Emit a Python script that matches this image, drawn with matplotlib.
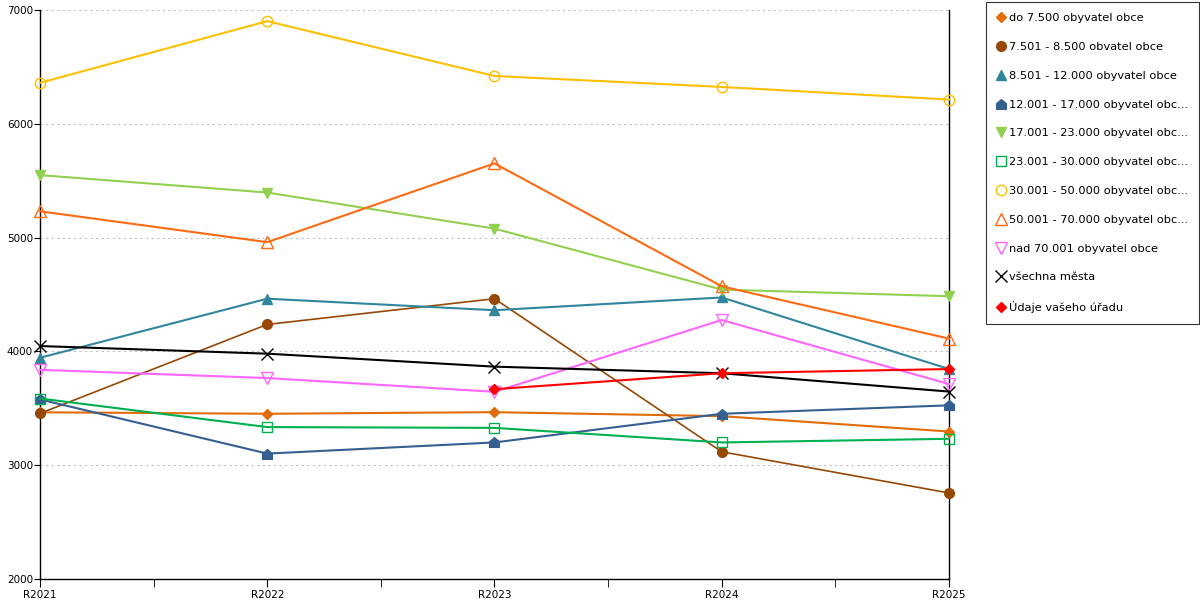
import numpy as np
import matplotlib
matplotlib.use('Agg')
import matplotlib.pyplot as plt
from matplotlib.lines import Line2D
from matplotlib.path import Path

years = ['R2021', 'R2022', 'R2023', 'R2024', 'R2025']

labels = ['do 7.500 obyvatel obce',
          '7.501 - 8.500 obvatel obce',
          '8.501 - 12.000 obyvatel obce',
          '12.001 - 17.000 obyvatel obc...',
          '17.001 - 23.000 obyvatel obc...',
          '23.001 - 30.000 obyvatel obc...',
          '30.001 - 50.000 obyvatel obc...',
          '50.001 - 70.000 obyvatel obc...',
          'nad 70.001 obyvatel obce',
          'všechna města',
          'Údaje vašeho úřadu']

do7500 = [3465, 3452, 3466, 3431, 3296]
s7501 = [3455, 4237, 4463, 3118, 2756]
s8501 = [3944, 4463, 4362, 4474, 3845]
s12001 = [3578, 3102, 3200, 3452, 3526]
s17001 = [5549, 5396, 5079, 4543, 4485]
s23001 = [3586, 3335, 3328, 3200, 3232]
s30001 = [6360, 6902, 6420, 6324, 6213]
s50001 = [5231, 4960, 5652, 4572, 4112]
nad70001 = [3838, 3766, 3645, 4276, 3713]
vsechna = [4047, 3980, 3866, 3808, 3647]
urad = [np.nan, np.nan, 3668, 3808, 3845]

series = [do7500, s7501, s8501, s12001, s17001, s23001, s30001, s50001, nad70001, vsechna, urad]

# house shaped marker for the 12.001 - 17.000 group
house = Path([(-1, -1), (1, -1), (1, 0.15), (0, 1), (-1, 0.15), (-1, -1)],
             [Path.MOVETO] + [Path.LINETO] * 4 + [Path.CLOSEPOLY])

styles = [
    dict(color='#E36C0A', marker='D', ms=5.5, mfc='#E36C0A', lw=1.5),
    dict(color='#974806', marker='o', ms=7, mfc='#974806', lw=1.2),
    dict(color='#31859C', marker='^', ms=7.5, mfc='#31859C', lw=1.5),
    dict(color='#365F91', marker=house, ms=7, mfc='#365F91', lw=1.5),
    dict(color='#92D050', marker='v', ms=7.5, mfc='#92D050', lw=1.5),
    dict(color='#00B050', marker='s', ms=7.5, mfc='none', lw=1.5),
    dict(color='#FFC000', marker='o', ms=7.5, mfc='none', lw=1.5),
    dict(color='#FF6A13', marker='^', ms=8, mfc='none', lw=1.5),
    dict(color='#FF66FF', marker='v', ms=8, mfc='none', lw=1.5),
    dict(color='#000000', marker='x', ms=8, mfc='none', lw=1.5),
    dict(color='#FF0000', marker='D', ms=5.5, mfc='#FF0000', lw=1.5),
]

fig = plt.figure(figsize=(12, 6), dpi=100)
ax = fig.add_axes([40/1200, 21/600, 909/1200, 569/600])

x = np.arange(len(years))
handles = []
for vals, st, lab in zip(series, styles, labels):
    ax.plot(x, vals, color=st['color'], lw=st['lw'], marker=st['marker'],
            ms=st['ms'], mfc=st['mfc'], mec=st['color'], mew=1.0,
            clip_on=False, zorder=3)
    handles.append(Line2D([], [], linestyle='none', marker=st['marker'],
                          ms=st['ms'], mfc=st['mfc'], mec=st['color'],
                          mew=1.0, label=lab))

ax.set_xlim(0, 4)
ax.set_ylim(2000, 7000)
ax.set_xticks(x)
ax.set_xticklabels(years, fontsize=7.5)
ax.set_xticks(x[:-1] + 0.5, minor=True)
ax.set_yticks(np.arange(2000, 7001, 1000))
ax.tick_params(axis='y', labelsize=7.5, length=4, pad=1)
ax.tick_params(axis='x', which='both', length=6, direction='out', pad=2)
ax.grid(True, axis='y', color='#C0C0C0', linestyle=(0, (2, 3)), linewidth=0.8)
ax.set_axisbelow(True)
ax.spines['top'].set_visible(False)
for s in ['left', 'right', 'bottom']:
    ax.spines[s].set_color('black')
    ax.spines[s].set_linewidth(1.0)

leg = fig.legend(handles=handles, loc='upper left', bbox_to_anchor=(986/1200, 0.997),
                 fontsize=8.2, frameon=True, fancybox=False, edgecolor='black',
                 handlelength=0.7, handletextpad=0.3, labelspacing=1.65,
                 borderpad=1.0, borderaxespad=0)
leg.get_frame().set_linewidth(0.8)

fig.savefig('out.png', dpi=100)
